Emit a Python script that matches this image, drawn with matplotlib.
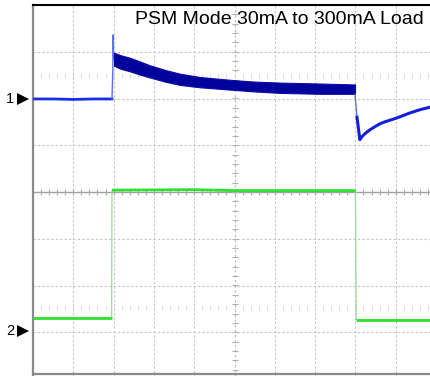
import numpy as np
import matplotlib
matplotlib.use("Agg")
import matplotlib.pyplot as plt

# ---- trace data (time in divisions, amplitude in divisions from screen centre) ----
# Channel 1: output voltage, before the load step
ch1_pre_t = [0.0, 0.5, 1.0, 1.5, 1.96]
ch1_pre_v = [1.99, 1.99, 1.98, 1.99, 1.99]

# Channel 1: rising edge and overshoot spike
ch1_edge_t = [1.96, 1.98, 1.99, 2.0, 2.01]
ch1_edge_v = [1.99, 2.6, 3.36, 2.9, 2.85]

# Channel 1: ripple envelope while loaded (upper / lower)
ch1_band_t = [2.01, 2.16, 2.41, 2.66, 2.90, 3.28, 3.65, 4.14, 4.89, 5.51,
              6.13, 7.12, 7.99]
ch1_band_hi = [2.98, 2.93, 2.87, 2.79, 2.71, 2.61, 2.53, 2.46, 2.40, 2.36,
               2.34, 2.32, 2.30]
ch1_band_lo = [2.70, 2.64, 2.58, 2.51, 2.45, 2.36, 2.29, 2.24, 2.19, 2.15,
               2.12, 2.10, 2.10]

# Channel 1: undershoot and recovery after load release
ch1_rec_t = [8.0, 8.04, 8.11, 8.16, 8.24, 8.36, 8.49, 8.61, 8.73, 8.98,
             9.11, 9.35, 9.60, 9.88, 10.0]
ch1_rec_v = [2.2, 1.6, 1.12, 1.18, 1.25, 1.33, 1.40, 1.46, 1.50, 1.57,
             1.61, 1.69, 1.76, 1.82, 1.84]

# Channel 2: load current step
ch2_t = [0.0, 1.95, 1.96, 4.0, 5.0, 8.0, 8.02, 10.0]
ch2_v = [-2.69, -2.69, 0.04, 0.05, 0.03, 0.03, -2.73, -2.73]

title_text = "PSM Mode 30mA to 300mA Load"
ch_labels = ["1", "2"]
ch_label_levels = [1.99, -2.97]

# ---- figure ----
W, H = 431, 376
fig = plt.figure(figsize=(W / 100, H / 100), dpi=100)
ax = fig.add_axes([33 / W, (H - 379) / H, 403 / W, 374 / H])
ax.set_xlim(0, 10)
ax.set_ylim(-4, 4)
ax.set_xticks([])
ax.set_yticks([])

for s in ["right", "bottom"]:
    ax.spines[s].set_visible(False)
ax.spines["top"].set_color("black")
ax.spines["top"].set_linewidth(1.5)
ax.spines["left"].set_color("#8a8a8a")
ax.spines["left"].set_linewidth(1.6)

# graticule
grid_kw = dict(color="#c4c4c4", lw=0.8, ls=(0, (2, 2)), zorder=0)
for gx in range(1, 10):
    if gx != 5:
        ax.axvline(gx, **grid_kw)
for gy in range(-3, 4):
    if gy != 0:
        ax.axhline(gy, **grid_kw)
ax.axhline(0, color="#a0a0a0", lw=1.0, zorder=0)
ax.axvline(5, color="#c0c0c0", lw=0.9, ls=(0, (2, 2)), zorder=0)
ax.axhline(-3.89, color="#8a8a8a", lw=1.6, zorder=0, clip_on=False)

minor_x = np.arange(0, 10.01, 0.2)
minor_y = np.arange(-4, 4.01, 0.2)
ax.plot(minor_x, np.zeros_like(minor_x), ls="none", marker="|", ms=5,
        mew=0.8, color="#a8a8a8", zorder=0)
ax.plot(np.full_like(minor_y, 5.0), minor_y, ls="none", marker="_", ms=5,
        mew=0.8, color="#b0b0b0", zorder=0)
for ry in (2.48, -2.48):
    ax.plot(minor_x, np.full_like(minor_x, ry), ls="none", marker="|", ms=3,
            mew=0.7, color="#d6d6d6", zorder=0)

# channel 2 (green)
ax.plot(ch2_t, ch2_v, color="#9fd69f", lw=0.9, zorder=2)
for seg in (slice(0, 2), slice(2, 6), slice(6, 8)):
    ax.plot(ch2_t[seg], ch2_v[seg], color="#2fe02f", lw=2.0,
            solid_capstyle="butt", zorder=3)

# channel 1 (blue)
ax.plot(ch1_pre_t, ch1_pre_v, color="#1a2ee6", lw=2.0, zorder=4)
ax.plot(ch1_edge_t, ch1_edge_v, color="#5a6cf0", lw=1.0, zorder=4)
ax.fill_between(ch1_band_t, ch1_band_lo, ch1_band_hi, color="#02029c",
                lw=0.8, edgecolor="#0a0aa8", zorder=4)
ax.plot([ch1_band_t[-1], ch1_rec_t[1]], [ch1_band_lo[-1], ch1_rec_v[1]],
        color="#5060e8", lw=0.9, zorder=4)
ax.plot(ch1_rec_t[1:], ch1_rec_v[1:], color="#1420d8", lw=2.2, zorder=4,
        solid_joinstyle="round")

# annotations
fig.text(424 / W, 1 - 20 / H, title_text, ha="right", va="center",
         fontsize=14, family=["Liberation Sans", "DejaVu Sans"], color="black")
for lab, lev in zip(ch_labels, ch_label_levels):
    ax.text(-0.47, lev, lab, ha="right", va="center", fontsize=10.5,
            family=["Liberation Sans", "DejaVu Sans"], color="black",
            clip_on=False)
    ax.plot([-0.25], [lev], ls="none", marker=">", ms=8, color="black",
            mew=0, clip_on=False)

fig.savefig("out.png", dpi=100)
